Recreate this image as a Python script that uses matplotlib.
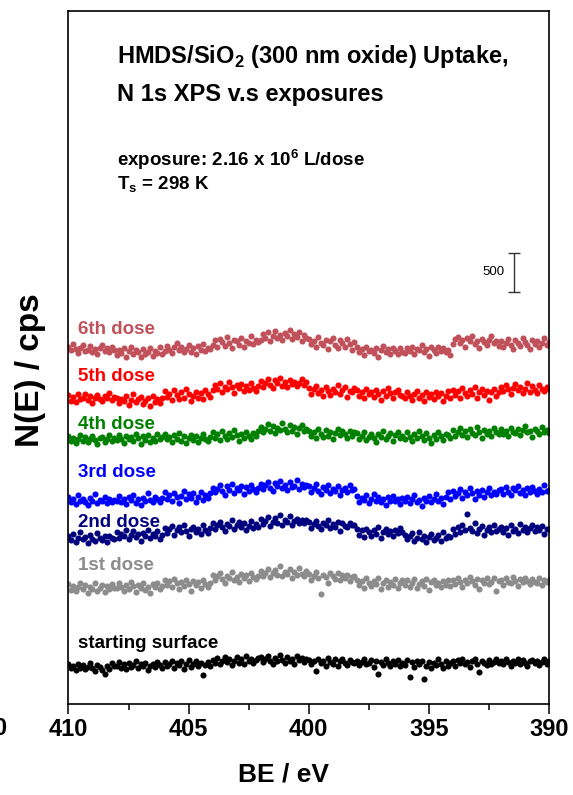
import numpy as np
import matplotlib
matplotlib.use('Agg')
import matplotlib.pyplot as plt

plt.rcParams['font.family'] = ['Liberation Sans', 'DejaVu Sans']
plt.rcParams['mathtext.fontset'] = 'custom'
plt.rcParams['mathtext.rm'] = 'Liberation Sans'
plt.rcParams['mathtext.bf'] = 'Liberation Sans:bold'

# binding energy grid, 410 -> 390 eV in 0.1 eV steps
be = np.round(np.arange(410.0, 389.95, -0.1), 1)

labels = ['starting surface', '1st dose', '2nd dose', '3rd dose', '4th dose', '5th dose', '6th dose']
colors = ['#000000', '#8C8C8C', '#00007F', '#0000FF', '#008000', '#FF0000', '#C0505A']
offsets = [526, 1564, 2218, 2692, 3449, 3987, 4590]          # stacking offsets (cps)
label_y = [770, 1770, 2320, 2960, 3575, 4200, 4800]

# N(E) deviation from offset, cps
start = [
    -20, -70, -40, -90, -10, -60, -30, -80, -50, 0, -65, -100, -25, -55, -85, -140, -35, -75, -5, -45,
    -40, 10, -60, -20, -80, 0, -50, -30, 20, -70, -15, -45, 5, -90, -35, -10, -55, 15, -25, -65,
    10, -40, -20, 30, -60, 0, -30, 20, -75, -10, 35, -50, -15, 25, -45, -5, -150, -25, 15, -35,
    40, 0, 60, -20, 30, 80, 10, 50, -30, 25, 70, 5, 45, -10, 90, 20, 55, -5, 35, 65,
    70, 10, 50, 90, 20, -15, 60, 30, 100, 40, 0, 75, 25, 55, -10, 85, 35, 65, 15, 45,
    40, -20, 25, -100, 50, 0, 30, -35, 60, 15, -15, 45, -40, 20, 55, 5, -25, 35, 10, -5,
    30, -30, 10, 50, -20, 0, 40, -50, 20, -140, 15, -25, 45, 5, -35, 25, -10, 35, -45, 0,
    -30, 40, -180, 10, -50, 25, -20, 30, -210, -40, 15, -60, 5, -25, 45, -10, -70, 20, -35, 0,
    20, -40, 35, 0, 50, -20, 10, -50, 30, 45, -10, -120, 25, 5, -30, 40, -15, 15, 55, -5,
    30, -20, 45, 10, -35, 25, 0, 50, -15, 35, 5, -40, 20, 40, -5, 30, -25, 15, 45, -10, 20,
]
dose1 = [
    -30, -100, -50, -120, -70, -10, -85, -40, -140, -60, -90, -20, -110, -75, -45, -130, -55, -95, -25, -80,
    -80, -20, -65, -110, -35, -90, 5, -55, -130, -40, -75, -15, -100, -60, -145, -30, -70, -10, -85, -50,
    20, -40, 10, -70, 35, -20, -90, 0, -55, 25, -30, -110, 15, -45, -5, -75, 30, -25, -60, -10,
    90, 20, 70, 110, 40, -10, 80, 55, 130, 25, 65, 0, 100, 45, 85, 15, 120, 60, 35, 75,
    140, 80, 120, 170, 60, 110, 150, 95, 200, 70, 130, 100, 165, 55, 125, 90, 180, 105, 75, 145,
    100, 30, 80, 130, 50, -150, 90, 60, -20, 110, 70, 40, 120, 20, 85, 55, 95, 10, 65, 75,
    30, -40, 10, -80, 45, -20, -55, 15, -30, 50, -95, -10, 25, -60, 5, -35, 40, -75, -15, 20,
    -40, 20, -60, -10, 35, -80, -25, 10, -50, 40, -100, -5, 25, -45, -15, -70, 15, -35, 30, -55,
    30, -30, 50, 0, -60, 25, -15, 60, 10, -40, 40, -90, 20, -10, 55, -25, 5, 45, -120, 15,
    20, -40, 45, 0, -20, 60, 10, -50, 35, -5, 50, 15, -30, 40, 5, -15, 55, -45, 25, 0, 30,
]
dose2 = [
    -60, -120, -40, -140, -90, -20, -110, -75, -160, -50, -100, -130, -30, -85, -115, -65, -145, -70, -95, -105,
    -20, -90, -35, -70, 10, -110, -55, -5, -80, -40, -125, -25, -60, 15, -95, -45, -70, 0, -100, -50,
    40, -30, 20, 60, -50, 10, 45, -20, 75, 0, -60, 30, 55, -15, 25, -40, 70, 5, -25, 35,
    100, 30, 80, 120, 50, 0, 90, 60, 140, 20, 75, 110, 45, 95, 15, 65, 130, 40, 85, 55,
    150, 90, 130, 175, 60, 120, 160, 100, 200, 80, 140, 110, 185, 70, 125, 155, 95, 135, 105, 145,
    110, 40, 90, 130, 60, 20, 100, 75, 140, 35, 85, 55, 120, 0, 95, 65, 45, 105, 70, 80,
    20, -50, 10, -80, 30, -20, -60, 5, -35, 45, -90, -10, 25, -45, -5, -70, 15, -30, 40, -15,
    -50, -110, -70, -30, -130, -85, -20, -100, -60, -140, -75, -40, -115, -90, -55, -125, -10, -95, -65, -80,
    30, -40, 50, -20, 80, 10, 210, 40, -5, 95, -30, 20, 60, -50, 15, 45, -15, 70, 0, 25,
    50, -10, 40, -50, 70, 0, 25, -30, 90, 15, 55, -20, 35, 80, -5, 45, 10, 65, -40, 30, 20,
]
dose3 = [
    -40, -110, -70, -130, -20, -90, -60, -100, -140, -55, -85, 0, -120, -75, -95, -45, -115, -65, -105, -80,
    -90, -30, -105, -60, -125, -45, -80, -20, -115, -70, -140, -50, -95, 10, -75, -110, -35, -65, -100, -55,
    20, -60, -15, -90, 10, -45, -120, -25, 40, -70, -5, -55, 15, -100, -35, 30, -80, -10, -50, 5,
    80, 20, 65, 110, 40, -10, 95, 55, 130, 15, 70, 45, 100, 0, 85, 35, 120, 60, 25, 75,
    130, 60, 110, 155, 80, 40, 140, 95, 170, 70, 120, 50, 150, 85, 105, 180, 65, 125, 90, 115,
    100, 20, 75, 130, 40, 0, 85, 55, 120, 10, 65, 35, 95, -15, 50, 80, 25, 110, 45, 60,
    -30, -100, -50, -80, -20, -120, -65, -5, -90, -45, -110, -70, -140, -40, -85, -25, -95, -60, -130, -55,
    -90, -40, -120, -60, -15, -100, -75, -150, -50, -85, -30, -110, -70, -5, -95, -55, -125, -35, 20, -65,
    40, -30, 15, 60, -50, 25, -10, 70, 5, -60, 35, -20, 50, -40, 20, 80, -15, 30, -5, 45,
    60, 0, 85, 30, -20, 70, 45, 100, 10, 55, -10, 75, 25, 90, 40, -5, 65, 20, 110, 35, 50,
]
dose4 = [
    -20, -85, -40, -110, -60, 0, -75, -30, -95, -50, -10, -70, -120, -45, -25, -90, -55, -5, -80, -35,
    -70, 0, -50, -100, -15, -60, -30, -85, 10, -45, -120, -20, -65, -5, -90, -40, -75, 15, -55, -25,
    10, -60, -30, -90, -5, -50, 20, -75, -20, -110, -40, 0, -65, -15, -95, -35, 15, -55, -80, -25,
    30, -40, 15, -70, 45, -15, -55, 20, -30, 60, -5, -85, 10, -45, 35, -20, -60, 25, -10, 50,
    100, 30, 80, 140, 50, 110, 20, 90, 60, 150, 75, 35, 120, 45, 95, 10, 85, 130, 55, 70,
    50, -20, 40, -45, 70, 5, -30, 60, -10, 35, -60, 25, 80, -5, 45, 15, -40, 55, -15, 30,
    20, -50, -10, 40, -70, -25, 15, -40, -95, 5, -30, 50, -60, -15, 25, -85, -5, 35, -45, -20,
    -50, 30, -25, -80, 10, -40, 45, -15, -65, 20, -35, -100, 0, -55, 35, -20, -70, 15, -5, -45,
    60, -10, 40, 90, 0, 55, -30, 75, 25, -5, 100, 35, -40, 65, 15, 50, -20, 85, 30, 5,
    70, 10, 55, -15, 90, 40, 20, 80, -5, 60, 110, 30, 50, -25, 75, 45, 15, 95, 35, 65, 25,
]
dose5 = [
    -30, -100, -55, -120, -20, -80, -65, -10, -95, -45, -130, -60, -25, -85, -110, -40, -70, -5, -90, -50,
    -60, -130, -75, -110, -40, -150, -95, -20, -120, -85, -55, -140, -100, -70, -165, -45, -115, -80, -125, -65,
    20, -50, -10, -90, 35, -30, -75, 5, -60, 45, -20, -105, -40, 15, -65, 0, -85, 30, -15, -55,
    30, 100, 55, 120, 10, 80, 45, 140, 70, -5, 95, 60, 115, 25, 85, 40, 130, 65, 20, 90,
    150, 80, 130, 175, 100, 60, 160, 120, 190, 90, 140, 70, 170, 110, 145, 85, 125, 180, 95, 135,
    60, -10, 45, 90, 0, 30, -40, 75, 20, -25, 55, 10, 100, -15, 40, 70, -50, 25, 5, 65,
    30, -40, 15, -70, 50, -20, 5, -55, 35, -10, -90, 20, -35, 60, -5, -60, 10, 40, -25, -45,
    -60, 10, -40, -95, -15, 20, -70, -30, -110, 5, -50, -20, -80, 15, -45, -5, -100, -35, 25, -65,
    40, -30, 20, -60, 65, 0, -45, 35, -15, 80, -70, 10, 50, -25, 25, -90, 5, 55, -40, 15,
    70, 20, 95, 45, -10, 60, 110, 30, 75, -5, 50, 120, 15, 85, 40, 0, 100, 55, 25, 80, 45,
]
dose6 = [
    -10, -60, 20, -45, -90, -30, 10, -70, -55, -5, -80, -40, -100, -25, 15, -65, -35, -85, -20, -50,
    -120, -50, -95, -30, -140, -70, -20, -105, -60, -85, -150, -45, -110, -75, -35, -125, -65, -90, -15, -100,
    -70, 0, -55, -95, -20, 30, -60, -10, -85, -45, 10, -75, -30, -110, -5, -50, 20, -65, -25, -40,
    10, 70, -15, 90, 45, 0, 110, 30, -30, 80, 55, 15, 100, -10, 65, 40, 125, 20, 75, 50,
    80, 150, 100, 170, 60, 130, 190, 95, 140, 75, 160, 120, 200, 85, 145, 110, 175, 55, 135, 105,
    90, 20, 65, -20, 110, 40, 5, 75, -45, 55, 100, 10, -30, 70, 35, -10, 85, 25, -60, 50,
    -20, -85, -40, -120, -10, -70, -55, -95, -30, -140, -60, 0, -80, -45, -110, -25, -65, -100, -35, -75,
    -90, -30, -70, -15, -105, -45, -60, 5, -85, -40, -125, -20, -55, -95, -10, -65, -35, -80, -50, -115,
    20, 85, 110, 40, 70, -10, 95, 55, 130, 25, 60, -30, 90, 45, 10, 75, 120, 30, 65, 0,
    60, -15, 40, 90, 10, -45, 70, 30, -5, 105, 45, 15, -40, 80, 20, 55, -20, 35, 95, 5, 50,
]
spectra = [start, dose1, dose2, dose3, dose4, dose5, dose6]

fig = plt.figure(figsize=(5.73, 7.95), dpi=100)
ax = fig.add_axes([0.1195, 0.1145, 0.8386, 0.8717])

for vals, off, c, lab, ly in zip(spectra, offsets, colors, labels, label_y):
    ax.plot(be, np.array(vals) + off, 'o', color=c, ms=4.4, mec='none', zorder=2)
    ax.text(409.6, ly, lab, color=c, fontsize=13.5, fontweight='bold',
            ha='left', va='center', zorder=3)

# 500 cps scale bar
ax.errorbar([391.45], [5532], yerr=[250], color='#333333', capsize=4, lw=1, capthick=1)
ax.text(391.85, 5538, '500', fontsize=9.5, ha='right', va='center')

ax.text(0.102, 0.935, r'HMDS/SiO$_\mathbf{2}$ (300 nm oxide) Uptake,', transform=ax.transAxes,
        fontsize=17, fontweight='bold', va='center')
ax.text(0.102, 0.879, 'N 1s XPS v.s exposures', transform=ax.transAxes,
        fontsize=17, fontweight='bold', va='center')
ax.text(0.102, 0.786, r'exposure: 2.16 x 10$^\mathbf{6}$ L/dose', transform=ax.transAxes,
        fontsize=13.5, fontweight='bold', va='center')
ax.text(0.102, 0.749, r'T$_\mathbf{s}$ = 298 K', transform=ax.transAxes,
        fontsize=13.5, fontweight='bold', va='center')

ax.set_xlim(410, 390)
ax.set_ylim(0, 8880)
ax.set_xticks([410, 405, 400, 395, 390])
ax.set_xticks([407.5, 402.5, 397.5, 392.5], minor=True)
ax.set_yticks([])
ax.tick_params(axis='x', which='major', length=7, width=1.1, labelsize=17, pad=3)
ax.tick_params(axis='x', which='minor', length=4, width=1.1)
for lbl in ax.get_xticklabels():
    lbl.set_fontweight('bold')
for s in ax.spines.values():
    s.set_linewidth(1.2)

ax.set_xlabel('BE / eV', fontsize=19, fontweight='bold')
ax.xaxis.set_label_coords(0.447, -0.084)
ax.set_ylabel('N(E) / cps', fontsize=24, fontweight='bold')
ax.yaxis.set_label_coords(-0.046, 0.482)

# clipped tick label of the neighbouring panel
fig.text(0.0, 0.084, '0', fontsize=17, fontweight='bold', ha='center', va='center')

fig.savefig('out.png', dpi=100)
